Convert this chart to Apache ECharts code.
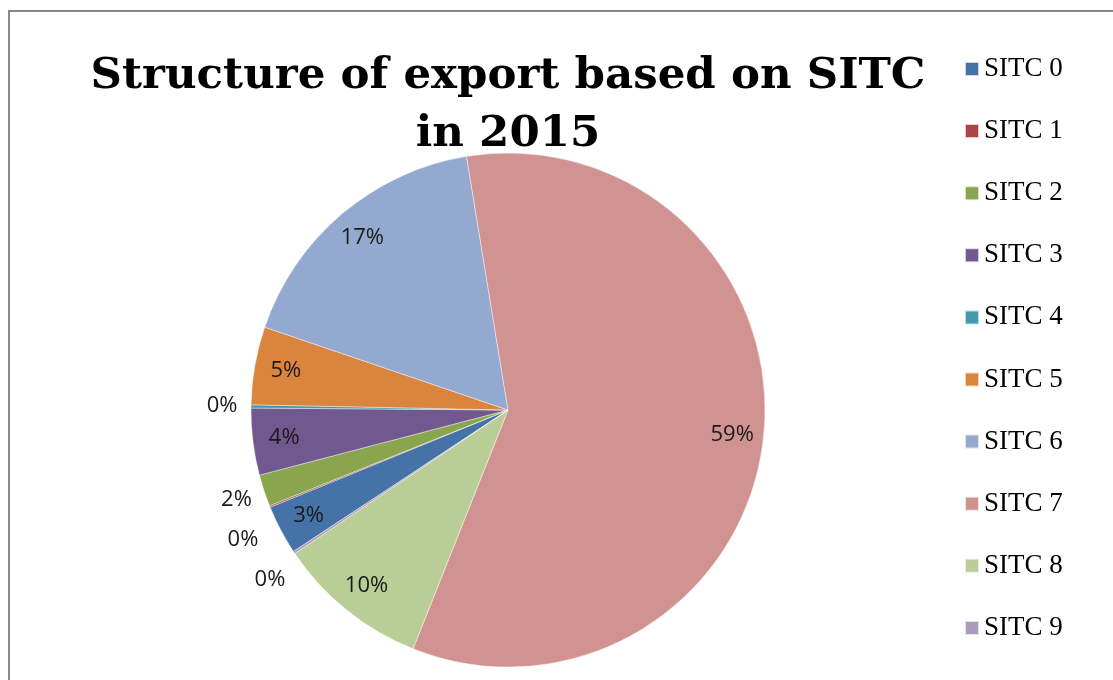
<!DOCTYPE html>
<html><head><meta charset="utf-8">
<script src="https://cdn.jsdelivr.net/npm/echarts@6/dist/echarts.min.js"></script>
<style>html,body{margin:0;padding:0;background:#fff}#c{width:1113px;height:680px}</style>
</head><body><div id="c"></div>
<script>
const titleLines = ['Structure of export based on SITC', 'in 2015'];
const categories = ['SITC 0','SITC 1','SITC 2','SITC 3','SITC 4','SITC 5','SITC 6','SITC 7','SITC 8','SITC 9'];
const values = [3.1, 0.1, 2.0, 4.2, 0.2, 4.9, 17.2, 58.6, 9.55, 0.15];
const colors = ['#4572A7','#AA4643','#89A54E','#71588F','#4198AF','#DB843D','#93A9CF','#D19392','#B9CD96','#A99BBD'];
const outsideLabelCats = ['SITC 1','SITC 2','SITC 4','SITC 9'];

const CX = 508, CY = 410, R = 257, START = 213.4;
const labelFont = {fontFamily: '"Open Sans", "Noto Sans", sans-serif', fontSize: 22, color: '#1a1a1a'};

function ringSeries(radius, showOutside) {
  const s = {
    type: 'pie', center: [CX, CY], radius: radius, startAngle: START, clockwise: true,
    silent: true, avoidLabelOverlap: false, percentPrecision: 0,
    emphasis: {disabled: true},
    itemStyle: {color: 'rgba(0,0,0,0)', borderWidth: 0},
    labelLine: {show: false},
    data: categories.map((c, i) => ({
      name: c, value: values[i],
      label: {show: outsideLabelCats.includes(c) === showOutside}
    })),
    label: Object.assign({position: 'inside', formatter: '{d}%'}, labelFont)
  };
  if (showOutside) {
    s.labelLayout = {hideOverlap: false, moveOverlap: 'shiftY'};
    s.label.lineHeight = 40;
  }
  return s;
}

const chart = echarts.init(document.getElementById('c'), null, {renderer: 'canvas'});
chart.setOption({
  animation: false,
  backgroundColor: '#fff',
  color: colors,
  graphic: [{
    type: 'rect', silent: true, z: -1,
    shape: {x: 9, y: 11, width: 1300, height: 900},
    style: {fill: 'none', stroke: '#898989', lineWidth: 2}
  }],
  title: {
    text: titleLines.join('\n'),
    left: CX, top: 48, padding: 0, textAlign: 'center',
    textStyle: {fontFamily: '"DejaVu Serif", serif', fontWeight: 'bold', fontSize: 43.5, lineHeight: 58, color: '#000'}
  },
  legend: {
    orient: 'vertical', left: 964, top: 54, padding: 0,
    data: categories, icon: 'rect', itemWidth: 14, itemHeight: 14, itemGap: 32.1,
    selectedMode: false,
    textStyle: {fontFamily: '"Liberation Serif", serif', fontSize: 27, lineHeight: 30, color: '#000'}
  },
  series: [
    {
      type: 'pie', center: [CX, CY], radius: R, startAngle: START, clockwise: true,
      silent: true, emphasis: {disabled: true},
      itemStyle: {borderColor: 'rgba(255,255,255,0.7)', borderWidth: 0.6},
      label: {show: false}, labelLine: {show: false},
      data: categories.map((c, i) => ({name: c, value: values[i]}))
    },
    ringSeries([200, 245], false),
    ringSeries([R, 309], true)
  ]
});
</script></body></html>
